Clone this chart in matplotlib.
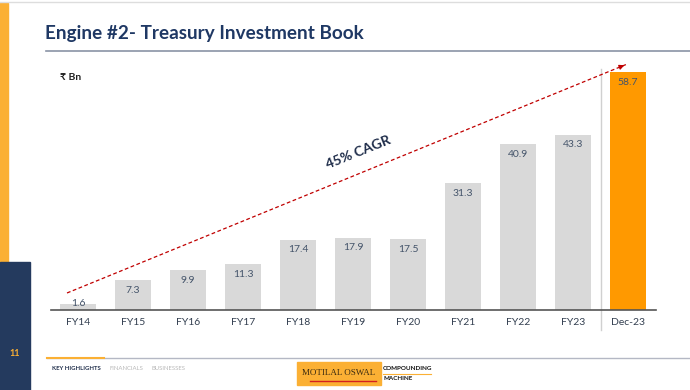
import matplotlib.pyplot as plt
from matplotlib.patches import Rectangle

plt.rcParams['font.family'] = ['Lato', 'DejaVu Sans']

categories = ['FY14', 'FY15', 'FY16', 'FY17', 'FY18', 'FY19', 'FY20', 'FY21', 'FY22', 'FY23', 'Dec-23']
values = [1.6, 7.3, 9.9, 11.3, 17.4, 17.9, 17.5, 31.3, 40.9, 43.3, 58.7]
bar_colors = ['#d9d9d9'] * 10 + ['#ff9900']

W, H = 690, 390
fig = plt.figure(figsize=(W / 100, H / 100), dpi=100)
fig.patch.set_facecolor('white')


def px(x, y, w, h):
    # pixel box (top-left origin) -> figure fraction
    return [x / W, 1 - (y + h) / H, w / W, h / H]


# slide decorations
fig.patches.append(Rectangle((0, 1 - 262 / H), 8 / W, 259 / H, transform=fig.transFigure,
                             color='#fbb034', zorder=0))
fig.patches.append(Rectangle((0, 0), 30 / W, 128 / H, transform=fig.transFigure,
                             color='#243a5e', zorder=0))
fig.text(15 / W, 1 - 354 / H, '11', color='#fbb034', fontsize=6.5, fontweight='bold',
         ha='center', va='center')
fig.add_artist(plt.Line2D([46 / W, 1], [1 - 51 / H] * 2, color='#8a93a6', lw=1.2))
fig.add_artist(plt.Line2D([0, 1], [1 - 2 / H] * 2, color='#dddddd', lw=1))
fig.text(45 / W, 1 - 33 / H, 'Engine #2- Treasury Investment Book', color='#1f3864',
         fontsize=13.6, fontweight='bold', va='center')
fig.text(60 / W, 1 - 77 / H, '₹ Bn', color='#222222', fontsize=7.5, fontweight='bold', va='center')

# footer
fig.add_artist(plt.Line2D([47 / W, 1], [1 - 358 / H] * 2, color='#b4b8c4', lw=1))
fig.add_artist(plt.Line2D([47 / W, 104 / W], [1 - 358 / H] * 2, color='#fbb034', lw=1.5))
fig.text(52 / W, 1 - 368 / H, 'KEY HIGHLIGHTS', color='#1f2d4a', fontsize=4.3,
         fontweight='bold', va='center')
fig.text(109 / W, 1 - 368 / H, 'FINANCIALS', color='#b8b8b8', fontsize=4.3, va='center')
fig.text(151 / W, 1 - 368 / H, 'BUSINESSES', color='#b8b8b8', fontsize=4.3, va='center')
fig.patches.append(Rectangle((297 / W, 1 - 385 / H), 84 / W, 23 / H, transform=fig.transFigure,
                             color='#fbb034', zorder=0))
fig.text(339 / W, 1 - 373 / H, 'MOTILAL OSWAL', color='#3a2a10', fontsize=6.5,
         family=['Liberation Serif', 'DejaVu Serif'], ha='center', va='center')
fig.add_artist(plt.Line2D([310 / W, 376 / W], [1 - 381 / H] * 2, color='#d42020', lw=1))
fig.text(383 / W, 1 - 369 / H, 'COMPOUNDING', color='#111111', fontsize=4.5,
         fontweight='bold', va='center')
fig.add_artist(plt.Line2D([383 / W, 431 / W], [1 - 374 / H] * 2, color='#fbb034', lw=0.8))
fig.text(383 / W, 1 - 379 / H, 'MACHINE', color='#111111', fontsize=4.5,
         fontweight='bold', va='center')

# chart
ax = fig.add_axes(px(50.5, 67, 605, 243))
x = range(len(categories))
bars = ax.bar(x, values, width=0.67, color=bar_colors, zorder=2)
ax.set_xlim(-0.5, len(categories) - 0.5)
ax.set_ylim(0, 60)
for b, v in zip(bars, values):
    ax.text(b.get_x() + b.get_width() / 2, max(v - 2.5, 1.7), f'{v:.1f}', ha='center',
            va='center', fontsize=7.5, color='#44546a', zorder=3)

ax.set_xticks(list(x))
ax.set_xticklabels(categories, fontsize=7.5, color='#333f50')
ax.tick_params(axis='x', length=0, pad=6)
ax.set_yticks([])
for s in ['top', 'right', 'left']:
    ax.spines[s].set_visible(False)
ax.spines['bottom'].set_color('#555555')
ax.spines['bottom'].set_linewidth(1.2)

# separator before Dec-23
ax.plot([9.5, 9.5], [-5, 59.5], color='#d0d0d0', lw=1, clip_on=False, zorder=1)

# CAGR arrow
x0, y0, x1, y1 = -0.2, 4.2, 9.98, 60.7
ax.plot([x0, x1], [y0, y1], ls=(0, (3, 2)), color='#c00000', lw=0.9, clip_on=False, zorder=4)
ax.annotate('', xy=(x1, y1), xytext=(x1 - 0.15, y1 - 0.84),
            arrowprops=dict(arrowstyle='-|>', color='#c00000', lw=0.9, mutation_scale=7),
            annotation_clip=False)
ax.text(5.09, 39, '45% CAGR', rotation=22, ha='center', va='center', fontsize=10,
        fontweight='bold', color='#1f2d4a')

fig.savefig('out.png', dpi=100)
